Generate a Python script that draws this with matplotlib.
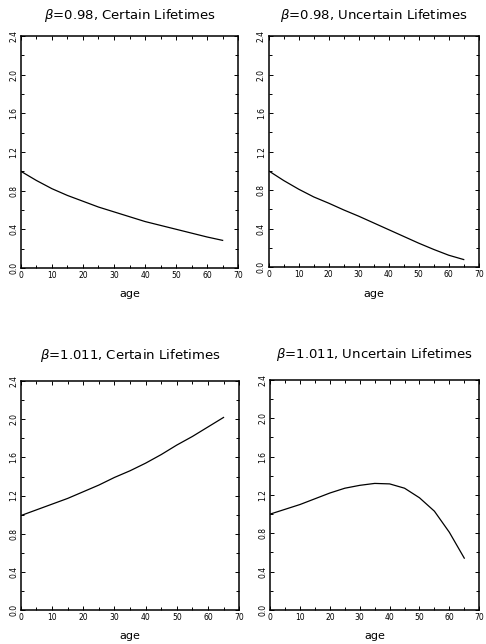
import numpy as np
import matplotlib.pyplot as plt
from matplotlib.ticker import MultipleLocator

# ages and values
age = [0, 5, 10, 15, 20, 25, 30, 35, 40, 45, 50, 55, 60, 65]

certain_098 = [1.0, 0.905, 0.82, 0.75, 0.69, 0.63, 0.58, 0.53, 0.48, 0.44, 0.40, 0.36, 0.32, 0.285]
uncertain_098 = [1.0, 0.90, 0.81, 0.73, 0.665, 0.595, 0.53, 0.46, 0.39, 0.32, 0.25, 0.185, 0.125, 0.08]
certain_1011 = [0.99, 1.05, 1.11, 1.17, 1.24, 1.31, 1.39, 1.46, 1.54, 1.63, 1.73, 1.82, 1.92, 2.02]
uncertain_1011 = [1.0, 1.05, 1.10, 1.16, 1.22, 1.27, 1.30, 1.32, 1.315, 1.27, 1.17, 1.03, 0.81, 0.54]

titles = [r"$\beta$=0.98, Certain Lifetimes",
          r"$\beta$=0.98, Uncertain Lifetimes",
          r"$\beta$=1.011, Certain Lifetimes",
          r"$\beta$=1.011, Uncertain Lifetimes"]
series = [certain_098, uncertain_098, certain_1011, uncertain_1011]

xticks = [0, 10, 20, 30, 40, 50, 60, 70]
yticks = [0.0, 0.4, 0.8, 1.2, 1.6, 2.0, 2.4]

plt.rcParams['font.family'] = ['DejaVu Sans']
plt.rcParams['mathtext.fontset'] = 'dejavusans'

fig = plt.figure(figsize=(4.86, 6.44), dpi=100)

boxes = [[0.043, 0.584, 0.447, 0.360],
         [0.553, 0.585, 0.432, 0.359],
         [0.043, 0.053, 0.449, 0.355],
         [0.556, 0.053, 0.430, 0.357]]
title_pad = [12, 12, 16, 16]

for i in range(4):
    ax = fig.add_axes(boxes[i])
    ax.plot(age, series[i], color='black', lw=0.9)
    ax.set_xlim(0, 70)
    ax.set_ylim(0, 2.4)
    ax.set_xticks(xticks)
    ax.set_yticks(yticks)
    ax.set_xticklabels([str(t) for t in xticks], fontsize=5.5)
    ax.set_yticklabels(["%.1f" % t for t in yticks], fontsize=5.5, rotation=90, va='center')
    ax.xaxis.set_minor_locator(MultipleLocator(5))
    ax.yaxis.set_minor_locator(MultipleLocator(0.2))
    ax.tick_params(which='both', direction='in', top=True, right=True, width=0.7)
    ax.tick_params(which='major', length=3, pad=2)
    ax.tick_params(which='minor', length=2)
    for s in ax.spines.values():
        s.set_linewidth(1.1)
    ax.set_title(titles[i], fontsize=9.5, pad=title_pad[i])
    ax.set_xlabel("age", fontsize=8, labelpad=7)

plt.savefig("out.png", dpi=100)
